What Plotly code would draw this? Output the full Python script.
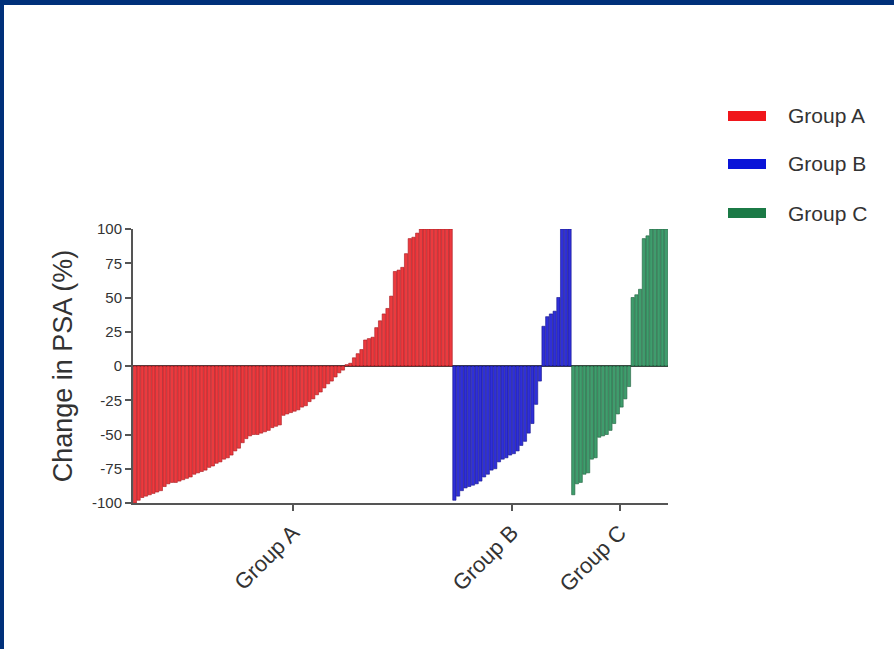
import plotly.graph_objects as go

# ---- data ----
group_names = ["Group A", "Group B", "Group C"]
group_a = [-100, -98, -96, -95, -94, -93, -92, -91, -88, -86,
           -85, -85, -84, -83, -82, -81, -79, -78, -77, -76,
           -74, -73, -71, -70, -68, -67, -65, -62, -60, -56,
           -53, -51, -50, -50, -49, -48, -47, -45, -44, -43,
           -36, -35, -34, -33, -32, -30, -29, -26, -24, -21,
           -19, -16, -13, -11, -8, -5, -3,
           1, 2, 6, 9, 12, 19, 20, 21, 28, 33,
           38, 42, 51, 69, 70, 72, 82, 93, 94, 97,
           100, 100, 100, 100, 100, 100, 100, 100, 100]
group_b = [-98, -95, -91, -89, -88, -87, -86, -84, -81, -79,
           -76, -75, -70, -68, -67, -65, -64, -62, -58, -55,
           -49, -42, -28, -11,
           29, 36, 38, 40, 50, 100, 100, 100]
group_c = [-94, -86, -85, -79, -78, -68, -67, -52, -51, -50,
           -47, -42, -35, -30, -24, -15,
           50, 52, 56, 93, 95, 100, 100, 100, 100, 100]
y_ticks = [-100, -75, -50, -25, 0, 25, 50, 75, 100]
y_tick_labels = ["-100", "-75", "-50", "-25", "0", "25", "50", "75", "100"]

series = [group_a, group_b, group_c]
bar_fill = ["#ec3a3e", "#2f2fd8", "#3f9d6d"]
bar_edge = ["#a8161b", "#14148c", "#1f5f3c"]
legend_col = ["#f0161b", "#0a14d8", "#1b7a46"]

# ---- geometry (pixels) ----
W, H = 894, 649
L, R, T, B = 133, 668, 229, 503
pw, ph = R - L, B - T


def px(xp):
    return (xp - L) / pw


def py(yp):
    return (B - yp) / ph


fig = go.Figure()

start = 0
tickvals = []
for name, vals, fc, ec in zip(group_names, series, bar_fill, bar_edge):
    xs = list(range(start, start + len(vals)))
    fig.add_trace(go.Bar(
        x=xs, y=vals, name=name, showlegend=False,
        marker=dict(color=fc, line=dict(color=ec, width=0.6)),
    ))
    tickvals.append((xs[0] + xs[-1]) / 2)
    start += len(vals)

font_family = "Liberation Sans, Arial, sans-serif"

# frame: navy strip on top and left, white elsewhere
shapes = [dict(
    type="rect", xref="paper", yref="paper", layer="below",
    x0=px(4), x1=px(W + 10), y0=py(H + 10), y1=py(5),
    fillcolor="white", line=dict(width=0),
)]
annotations = []
# legend: swatch + label per group
legend_y = [116, 164, 213]
for name, col, ly in zip(group_names, legend_col, legend_y):
    shapes.append(dict(
        type="rect", xref="paper", yref="paper", layer="above",
        x0=px(728), x1=px(766), y0=py(ly + 5), y1=py(ly - 5),
        fillcolor=col, line=dict(width=0),
    ))
    annotations.append(dict(
        xref="paper", yref="paper", x=px(786), y=py(ly),
        xanchor="left", yanchor="middle", showarrow=False,
        text=name, font=dict(size=21, color="#333333", family=font_family),
    ))

fig.update_layout(
    width=W, height=H,
    margin=dict(l=L, r=W - R, t=T, b=H - B, pad=0),
    paper_bgcolor="#00307a",
    plot_bgcolor="white",
    bargap=0.12,
    font=dict(family=font_family, color="#333333"),
    showlegend=False,
    shapes=shapes,
    annotations=annotations,
)

fig.update_xaxes(
    range=[-0.5, start - 0.5],
    tickmode="array", tickvals=tickvals, ticktext=group_names,
    tickangle=-45, tickfont=dict(size=22, color="#333333"),
    showline=True, linecolor="#555555", linewidth=2,
    ticks="outside", ticklen=6, tickwidth=1.5, tickcolor="#555555",
    showgrid=False, zeroline=False,
)
fig.update_yaxes(
    range=[-100, 100],
    tickmode="array", tickvals=y_ticks, ticktext=y_tick_labels,
    tickfont=dict(size=15, color="#333333"),
    showline=True, linecolor="#555555", linewidth=2,
    ticks="outside", ticklen=6, tickwidth=1.5, tickcolor="#555555",
    showgrid=False,
    zeroline=True, zerolinecolor="#444444", zerolinewidth=2,
    title=dict(text="Change in PSA (%)", font=dict(size=27, color="#333333"),
               standoff=12),
)

fig.write_html("out.html",
               config={"displayModeBar": False},
               post_script="document.body.style.margin='0px';")
